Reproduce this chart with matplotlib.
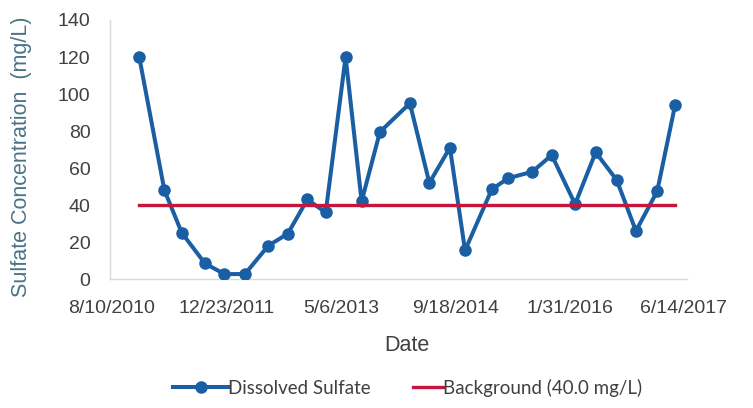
import matplotlib
matplotlib.use("Agg")
import matplotlib.pyplot as plt
import matplotlib.dates as mdates
from datetime import datetime, timedelta

# Sampling dates and dissolved sulfate results (mg/L)
sample_dates = [
    "12/7/2010", "3/27/2011", "6/11/2011", "9/20/2011", "12/14/2011",
    "3/13/2012", "6/23/2012", "9/16/2012", "12/11/2012", "3/1/2013",
    "5/27/2013", "8/5/2013", "10/24/2013", "3/4/2014", "5/28/2014",
    "8/26/2014", "10/31/2014", "2/25/2015", "5/8/2015", "8/21/2015",
    "11/14/2015", "2/24/2016", "5/24/2016", "8/24/2016", "11/16/2016",
    "2/17/2017", "5/6/2017",
]
sulfate = [
    120, 48, 25, 8.5, 2.7,
    2.7, 18, 24.5, 43, 36,
    120, 42, 79.5, 95, 52,
    71, 15.5, 48.5, 54.5, 58,
    67, 40.5, 68.5, 53.5, 26,
    47.5, 94,
]
background = 40.0

tick_labels = ["8/10/2010", "12/23/2011", "5/6/2013", "9/18/2014",
               "1/31/2016", "6/14/2017"]
y_ticks = [0, 20, 40, 60, 80, 100, 120, 140]


def parse(s):
    return datetime.strptime(s, "%m/%d/%Y")


dates = [parse(s) for s in sample_dates]
tick_dates = [parse(s) for s in tick_labels]

plt.rcParams["font.family"] = ["Liberation Sans", "DejaVu Sans"]

fig = plt.figure(figsize=(7.53, 4.08), dpi=100)
ax = fig.add_axes([0.146, 0.316, 0.766, 0.635])

blue = "#1A5EA3"
red = "#C3173D"

sulfate_line, = ax.plot(dates, sulfate, color=blue, lw=2.9, marker="o", ms=8,
                        markerfacecolor=blue, markeredgecolor=blue,
                        label="Dissolved Sulfate", zorder=3)
bg_line, = ax.plot([dates[0], dates[-1]], [background, background], color=red,
                   lw=2.4, label="Background (40.0 mg/L)", zorder=4)

ax.set_xlim(tick_dates[0] - timedelta(days=9), tick_dates[-1] + timedelta(days=12))
ax.set_ylim(0, 140)
ax.set_xticks([mdates.date2num(d) for d in tick_dates])
ax.set_xticklabels(tick_labels)
ax.set_yticks(y_ticks)
ax.set_yticklabels([str(v) for v in y_ticks])

ax.tick_params(axis="both", length=0, labelsize=14, labelcolor="#404040")
ax.tick_params(axis="x", pad=15)
ax.tick_params(axis="y", pad=14)

for side in ("top", "right"):
    ax.spines[side].set_visible(False)
for side in ("left", "bottom"):
    ax.spines[side].set_color("#D9D9D9")
    ax.spines[side].set_linewidth(1.0)

ax.set_xlabel("Date", fontsize=15.5, color="#404040")
ax.xaxis.set_label_coords(0.515, -0.255)
ax.xaxis.label.set_va("center")
fig.text(0.029, 0.615, "Sulfate Concentration  (mg/L)", rotation=90,
         fontsize=15.5, color="#4A7386", ha="center", va="center")

# Legend entries along the bottom, each with its own handle length
leg_props = {"family": ["Lato", "DejaVu Sans"], "size": 13.5}
leg1 = fig.legend([sulfate_line], ["Dissolved Sulfate"], loc="center left",
                  bbox_to_anchor=(173 / 753, 1 - 388 / 408), frameon=False,
                  borderaxespad=0, borderpad=0, handlelength=2.95,
                  handletextpad=0.0, prop=leg_props)
leg2 = fig.legend([bg_line], ["Background (40.0 mg/L)"], loc="center left",
                  bbox_to_anchor=(413 / 753, 1 - 388 / 408), frameon=False,
                  borderaxespad=0, borderpad=0, handlelength=1.6,
                  handletextpad=0.0, prop=leg_props)
for leg in (leg1, leg2):
    for t in leg.get_texts():
        t.set_color("#404040")

fig.savefig("out.png", dpi=100)
